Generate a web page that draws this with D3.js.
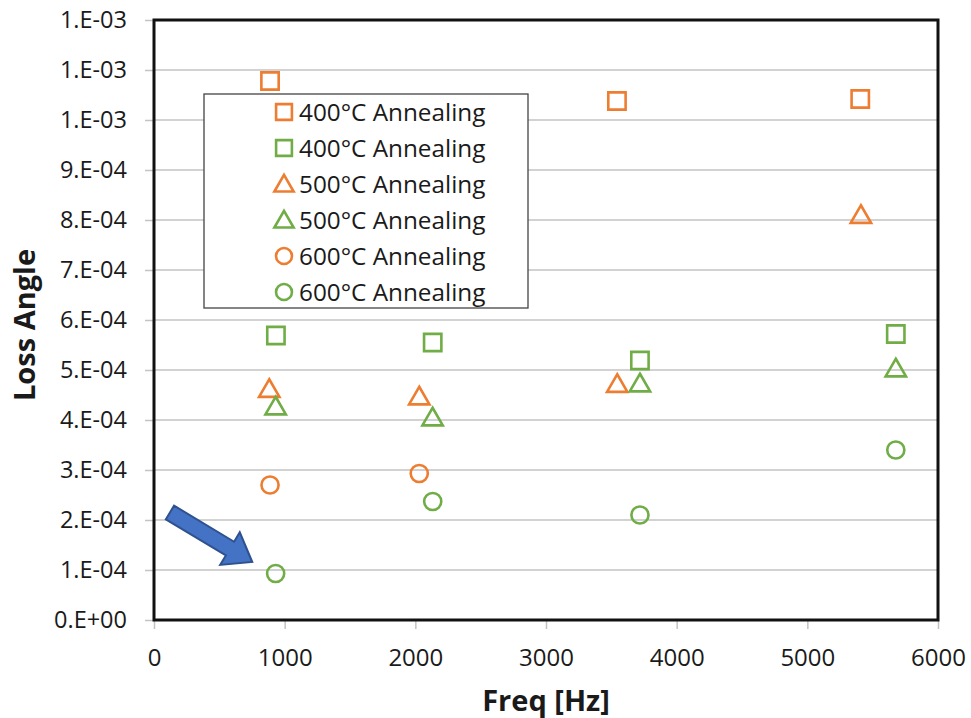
<!DOCTYPE html>
<html>
<head>
<meta charset="utf-8">
<script src="https://cdn.jsdelivr.net/npm/d3@7"></script>
<style>
  body { margin: 0; background: #fff; }
  svg text { font-family: "Open Sans", sans-serif; fill: #1a1a1a; }
</style>
</head>
<body>
<svg class="svg" width="971" height="718"></svg>
<script>
// series values (freq in Hz, loss angle)
const sq400Orange = [[888, 1.078e-3], [3543, 1.038e-3], [5405, 1.042e-3]];
const sq400Green = [[933, 5.69e-4], [2133, 5.55e-4], [3719, 5.19e-4], [5677, 5.72e-4]];
const tri500Orange = [[882, 4.62e-4], [2030, 4.47e-4], [3545, 4.72e-4], [5410, 8.10e-4]];
const tri500Green = [[931, 4.27e-4], [2132, 4.05e-4], [3719, 4.73e-4], [5677, 5.03e-4]];
const circ600Orange = [[888, 2.70e-4], [2030, 2.93e-4]];
const circ600Green = [[931, 9.3e-5], [2133, 2.37e-4], [3719, 2.10e-4], [5677, 3.40e-4]];

const seriesNames = ["400°C Annealing", "400°C Annealing", "500°C Annealing",
  "500°C Annealing", "600°C Annealing", "600°C Annealing"];
const xTicks = [0, 1000, 2000, 3000, 4000, 5000, 6000];
const yTicks = [0, 1e-4, 2e-4, 3e-4, 4e-4, 5e-4, 6e-4, 7e-4, 8e-4, 9e-4, 1.0e-3, 1.1e-3, 1.2e-3];
const yTickLabels = ["0.E+00", "1.E-04", "2.E-04", "3.E-04", "4.E-04", "5.E-04", "6.E-04",
  "7.E-04", "8.E-04", "9.E-04", "1.E-03", "1.E-03", "1.E-03"];
// annotation arrow: tail -> tip in data units
const arrowPts = [[122, 2.15e-4], [752, 1.16e-4]];

const orange = "#ED7D31", green = "#70AD47";
const series = [
  { data: sq400Orange, shape: "square", color: orange },
  { data: sq400Green, shape: "square", color: green },
  { data: tri500Orange, shape: "triangle", color: orange },
  { data: tri500Green, shape: "triangle", color: green },
  { data: circ600Orange, shape: "circle", color: orange },
  { data: circ600Green, shape: "circle", color: green }
];

const margin = { left: 154, top: 20, right: 33, bottom: 98 };
const W = 971, H = 718;
const svg = d3.select(".svg");

const x = d3.scaleLinear().domain([0, 6000]).range([margin.left, W - margin.right]);
const y = d3.scaleLinear().domain([0, 1.2e-3]).range([H - margin.bottom, margin.top]);

// gridlines
svg.append("g")
  .selectAll("line")
  .data(yTicks.slice(1, -1))
  .join("line")
  .attr("x1", x(0)).attr("x2", x(6000))
  .attr("y1", d => y(d)).attr("y2", d => y(d))
  .attr("stroke", "#c3c3c3").attr("stroke-width", 1.5);

// y axis
const yAxis = svg.append("g")
  .attr("transform", `translate(${x(0)},0)`)
  .call(d3.axisLeft(y).tickValues(yTicks).tickSize(9).tickPadding(18)
    .tickFormat((d, i) => yTickLabels[i]));
yAxis.select(".domain").remove();
yAxis.selectAll(".tick line").attr("stroke", "#c3c3c3").attr("stroke-width", 1.5);
yAxis.selectAll("text").attr("font-size", 23.5).attr("fill", "#1a1a1a");

// x axis
const xAxis = svg.append("g")
  .attr("transform", `translate(0,${y(0)})`)
  .call(d3.axisBottom(x).tickValues(xTicks).tickSize(9).tickPadding(20)
    .tickFormat(d3.format("d")));
xAxis.select(".domain").remove();
xAxis.selectAll(".tick line").attr("stroke", "#c3c3c3").attr("stroke-width", 1.5);
xAxis.selectAll("text").attr("font-size", 24).attr("fill", "#1a1a1a");

// plot frame
svg.append("rect")
  .attr("x", x(0)).attr("y", y(1.2e-3))
  .attr("width", x(6000) - x(0)).attr("height", y(0) - y(1.2e-3))
  .attr("fill", "none").attr("stroke", "#111").attr("stroke-width", 3);

// markers
const symbolFor = {
  square: d3.symbol().type(d3.symbolSquare).size(300),
  triangle: d3.symbol().type(d3.symbolTriangle).size(180),
  circle: d3.symbol().type(d3.symbolCircle).size(230)
};
const legendSymbol = {
  square: d3.symbol().type(d3.symbolSquare).size(250),
  triangle: d3.symbol().type(d3.symbolTriangle).size(160),
  circle: d3.symbol().type(d3.symbolCircle).size(200)
};

series.forEach(s => {
  svg.append("g")
    .selectAll("path")
    .data(s.data)
    .join("path")
    .attr("d", symbolFor[s.shape])
    .attr("transform", d => `translate(${x(d[0])},${y(d[1]) + (s.shape === "triangle" ? 2 : 0)})`)
    .attr("fill", "none")
    .attr("stroke", s.color)
    .attr("stroke-width", 2.6);
});

// legend
const lg = svg.append("g").attr("transform", "translate(204,94)");
lg.append("rect")
  .attr("width", 324).attr("height", 214)
  .attr("fill", "#fff").attr("stroke", "#444").attr("stroke-width", 1.3);
series.forEach((s, i) => {
  const row = lg.append("g").attr("transform", `translate(80,${18 + i * 36})`);
  row.append("path")
    .attr("d", legendSymbol[s.shape])
    .attr("transform", s.shape === "triangle" ? "translate(0,2)" : null)
    .attr("fill", "none").attr("stroke", s.color).attr("stroke-width", 2.6);
  row.append("text")
    .attr("x", 15).attr("y", 0).attr("dy", "0.36em")
    .attr("font-size", 24.3)
    .text(seriesNames[i]);
});

// blue arrow annotation
const [p0, p1] = arrowPts.map(p => [x(p[0]), y(p[1])]);
const ang = Math.atan2(p1[1] - p0[1], p1[0] - p0[0]);
const len = Math.hypot(p1[0] - p0[0], p1[1] - p0[1]);
const hw = 8, headLen = 26, headW = 19;
const arrowShape = [
  [0, -hw], [len - headLen, -hw], [len - headLen, -headW], [len, 0],
  [len - headLen, headW], [len - headLen, hw], [0, hw], [0, -hw]
];
svg.append("path")
  .attr("d", d3.line()(arrowShape) + "Z")
  .attr("transform", `translate(${p0[0]},${p0[1]}) rotate(${ang * 180 / Math.PI})`)
  .attr("fill", "#4472C4").attr("stroke", "#2F528F").attr("stroke-width", 2)
  .attr("stroke-linejoin", "miter");

// axis titles
svg.append("text")
  .attr("transform", `translate(35,${325}) rotate(-90)`)
  .attr("text-anchor", "middle")
  .attr("font-size", 29).attr("font-weight", "bold")
  .text("Loss Angle");
svg.append("text")
  .attr("x", 546).attr("y", 711)
  .attr("text-anchor", "middle")
  .attr("font-size", 29).attr("font-weight", "bold")
  .text("Freq [Hz]");
</script>
</body>
</html>
